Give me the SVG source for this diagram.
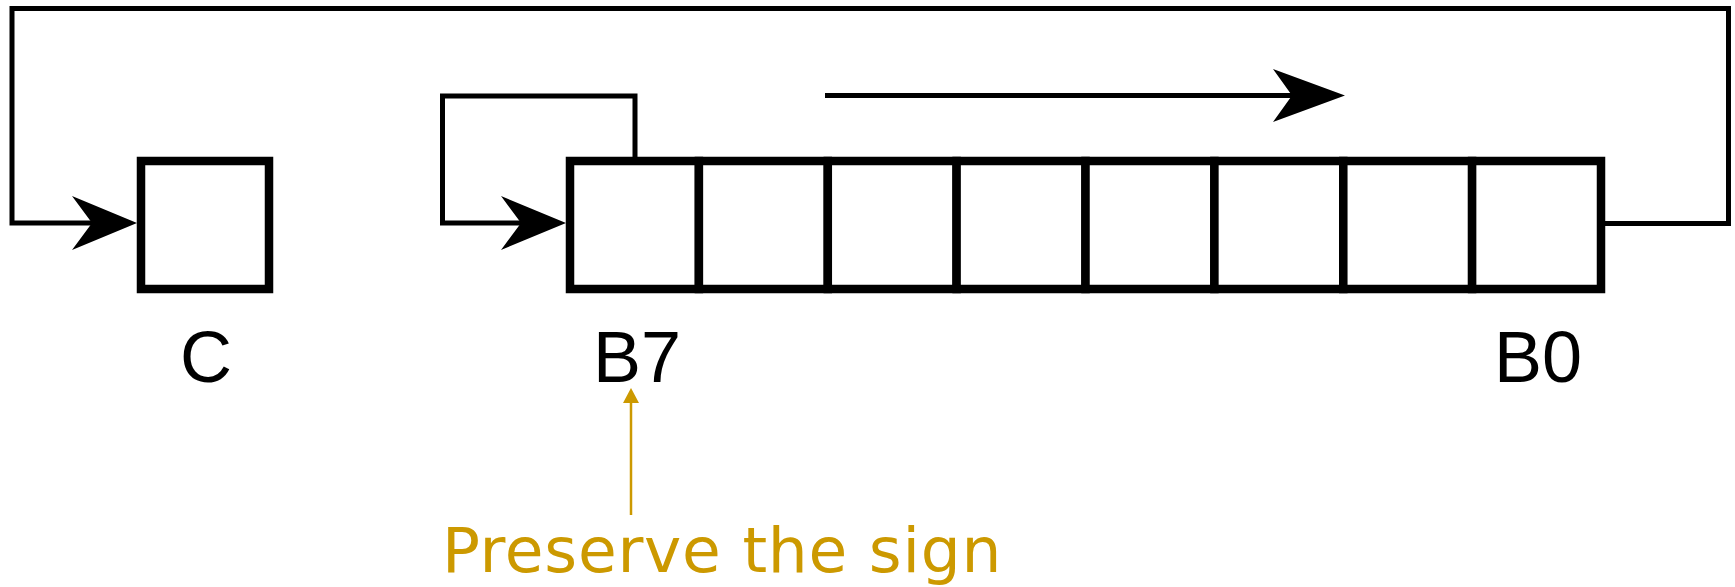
<svg xmlns="http://www.w3.org/2000/svg" width="1735" height="587" viewBox="0 0 1735 587">
<style>
.box{fill:#fff;stroke:#000;stroke-width:8.5}
.wire{fill:none;stroke:#000;stroke-width:5}
.lbl{font-family:"Liberation Sans",Arial,sans-serif;font-size:72px;fill:#000;text-anchor:middle}
.note{font-family:"DejaVu Sans",sans-serif;font-size:63px;fill:#CC9900;text-anchor:middle;letter-spacing:0.75px}
</style>
<defs>
<marker id="ah" markerUnits="userSpaceOnUse" markerWidth="70" markerHeight="60" viewBox="-68 -30 70 60" refX="-45" refY="0" orient="auto">
<polygon points="0,0 -65,-27 -45,0 -65,27" fill="#000"/>
</marker>
<marker id="ah2" markerUnits="userSpaceOnUse" markerWidth="78" markerHeight="60" viewBox="-75 -30 78 60" refX="-53" refY="0" orient="auto">
<polygon points="0,0 -72,-26.5 -53,0 -72,26.5" fill="#000"/>
</marker>
</defs>
<g id="connectors">
<polyline class="wire" points="1605,223.5 1728.5,223.5 1728.5,8.5 12,8.5 12,223 92,223" marker-end="url(#ah)"/>
<polyline class="wire" points="635,157 635,96 442.5,96 442.5,223 521,223" marker-end="url(#ah)"/>
<line class="wire" x1="825" y1="95.5" x2="1292" y2="95.5" marker-end="url(#ah2)"/>
<line x1="631" y1="515" x2="631" y2="400" stroke="#CC9900" stroke-width="2.5"/>
<polygon points="631,388 623,403 639,403" fill="#CC9900"/>
</g>
<g id="node-C">
<rect class="box" x="141" y="161" width="128" height="128"/>
<text class="lbl" x="206" y="382">C</text>
</g>
<g id="node-B">
<rect class="box" x="570" y="161" width="128.9" height="128"/>
<rect class="box" x="698.9" y="161" width="128.9" height="128"/>
<rect class="box" x="827.8" y="161" width="128.8" height="128"/>
<rect class="box" x="956.6" y="161" width="128.9" height="128"/>
<rect class="box" x="1085.5" y="161" width="128.9" height="128"/>
<rect class="box" x="1214.4" y="161" width="128.9" height="128"/>
<rect class="box" x="1343.3" y="161" width="128.8" height="128"/>
<rect class="box" x="1472.1" y="161" width="128.9" height="128"/>
<text class="lbl" x="637" y="382">B7</text>
<text class="lbl" x="1538" y="382">B0</text>
</g>
<g id="note">
<text class="note" x="722" y="572">Preserve the sign</text>
</g>
</svg>
